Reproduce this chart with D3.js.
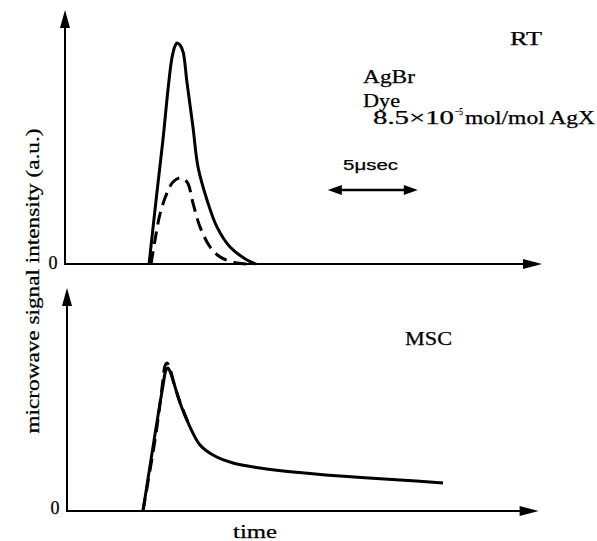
<!DOCTYPE html>
<html>
<head>
<meta charset="utf-8">
<script src="https://cdn.jsdelivr.net/npm/d3@7"></script>
<style>
    body { margin: 0; background: #fff; }
    text { font-family: "Liberation Serif", "Times New Roman", serif; fill: #000; stroke: #000; stroke-width: 0.25; }
</style>
</head>
<body>
<script>

// time in microseconds, signal in arbitrary units (0-10)
var topSolid = [[4.67,0],[5.06,2.52],[5.44,4.88],[5.72,6.85],[5.94,8.11],[6.11,8.58],[6.22,8.70],
                [6.39,8.62],[6.56,8.35],[6.78,7.13],[7.11,5.39],[7.39,3.82],[7.89,2.52],[8.44,1.46],
                [9.17,0.67],[10.11,0.16],[10.61,0]];
var topDashed = [[4.78,0],[5.00,0.94],[5.28,1.97],[5.67,2.80],[6.00,3.23],[6.39,3.39],[6.78,3.23],
                 [7.11,2.40],[7.50,1.46],[8.06,0.67],[8.61,0.28],[9.56,0.04],[10.39,0]];
var botSolid = [[4.22,0],[4.83,3.14],[5.33,5.61],[5.50,6.32],[5.61,6.41],[5.78,6.14],[6.28,4.84],
                [6.83,3.77],[7.39,2.96],[8.11,2.51],[9.22,2.15],[10.72,1.93],[12.56,1.75],[15.17,1.57],
                [18.5,1.39],[20.89,1.26]];
var botDashed = [[4.22,0],[4.89,3.18],[5.11,4.44],[5.33,5.87],[5.44,6.50],[5.56,6.64],[5.72,6.41],
                 [5.89,5.87],[6.28,4.89],[6.83,3.77]];
var scaleBar = [14.6, 19.6];   // 5 usec marker
var scaleBarLevel = 2.91;

var width = 597,
    height = 541;

var svg = d3.select("body")
    .append("svg")
    .attr("width", width)
    .attr("height", height);

// scales for the two panels
var xTop = d3.scaleLinear().domain([0, 26.5]).range([65, 542]);
var yTop = d3.scaleLinear().domain([0, 10]).range([264, 10]);
var xBot = d3.scaleLinear().domain([0, 26.2]).range([67, 538.6]);
var yBot = d3.scaleLinear().domain([0, 10]).range([511, 288]);

// filled arrow head with tip at (x, y)
function arrowHead(x, y, dir, len, half) {
    var p;
    if (dir == "up") p = [[x, y], [x - half, y + len], [x + half, y + len]];
    if (dir == "right") p = [[x, y], [x - len, y - half], [x - len, y + half]];
    if (dir == "left") p = [[x, y], [x + len, y - half], [x + len, y + half]];
    svg.append("path")
        .attr("d", "M" + p.join("L") + "Z")
        .attr("fill", "#000");
}

function drawAxes(x, y) {
    var x0 = x.range()[0], x1 = x.range()[1],
        y0 = y.range()[0], y1 = y.range()[1];
    svg.append("path")
        .attr("d", "M" + x0 + "," + (y1 + 10) + "L" + x0 + "," + y0 + "L" + (x1 - 10) + "," + y0)
        .attr("fill", "none")
        .attr("stroke", "#000")
        .attr("stroke-width", 2);
    arrowHead(x0, y1, "up", 18, 5);
    arrowHead(x1, y0, "right", 19, 5);
}

function drawCurve(data, x, y, dashed) {
    var line = d3.line()
        .x(function(d) { return x(d[0]); })
        .y(function(d) { return y(d[1]); })
        .curve(d3.curveCatmullRom.alpha(0.5));
    svg.append("path")
        .datum(data)
        .attr("d", line)
        .attr("fill", "none")
        .attr("stroke", "#000")
        .attr("stroke-width", 3)
        .attr("stroke-linejoin", "round")
        .attr("stroke-dasharray", dashed ? "13,7" : null);
}

drawAxes(xTop, yTop);
drawAxes(xBot, yBot);

drawCurve(topSolid, xTop, yTop, false);
drawCurve(topDashed, xTop, yTop, true);
drawCurve(botSolid, xBot, yBot, false);
drawCurve(botDashed, xBot, yBot, true);

// 5 usec double arrow
svg.append("line")
    .attr("x1", xTop(scaleBar[0]) + 8).attr("x2", xTop(scaleBar[1]) - 8)
    .attr("y1", yTop(scaleBarLevel)).attr("y2", yTop(scaleBarLevel))
    .attr("stroke", "#000")
    .attr("stroke-width", 2.5);
arrowHead(xTop(scaleBar[0]), yTop(scaleBarLevel), "left", 14, 5);
arrowHead(xTop(scaleBar[1]), yTop(scaleBarLevel), "right", 14, 5);

// text, stretched to the widths of the scanned lettering
function label(str, x, y, size, len, anchor, font) {
    var t = svg.append("text")
        .attr("x", x)
        .attr("y", y)
        .attr("font-size", size)
        .attr("text-anchor", anchor || "start")
        .text(str);
    if (len) t.attr("textLength", len).attr("lengthAdjust", "spacingAndGlyphs");
    if (font) t.style("font-family", font);
    return t;
}

label("RT", 510, 45, 19, 32);
label("AgBr", 363, 83, 19, 52);
label("Dye", 363, 107, 19, 37);

// concentration line, superscript as a tspan
var conc = svg.append("text")
    .attr("y", 124)
    .attr("font-size", 18);
conc.append("tspan").attr("x", 373)
    .attr("textLength", 81).attr("lengthAdjust", "spacingAndGlyphs")
    .text("8.5\u00d710");
conc.append("tspan").attr("x", 455).attr("dy", -9)
    .attr("font-size", 10)
    .attr("textLength", 8).attr("lengthAdjust", "spacingAndGlyphs")
    .text("\u22125");
conc.append("tspan").attr("x", 465).attr("dy", 9)
    .attr("textLength", 130).attr("lengthAdjust", "spacingAndGlyphs")
    .text("mol/mol AgX");

label("5\u03bcsec", 343, 170, 15, 55, "start", "'Liberation Sans', Arial, sans-serif");
label("MSC", 405, 345, 19, 47);
label("time", 255, 538, 18, 44, "middle");
label("0", xTop.range()[0] - 12, yTop.range()[0] + 5, 18, null, "middle");
label("0", xBot.range()[0] - 12, yBot.range()[0] + 3, 18, null, "middle");

svg.append("text")
    .attr("transform", "translate(39,281) rotate(-90)")
    .attr("text-anchor", "middle")
    .attr("font-size", 18)
    .attr("textLength", 305)
    .attr("lengthAdjust", "spacingAndGlyphs")
    .text("microwave signal intensity (a.u.)");

</script>
</body>
</html>
